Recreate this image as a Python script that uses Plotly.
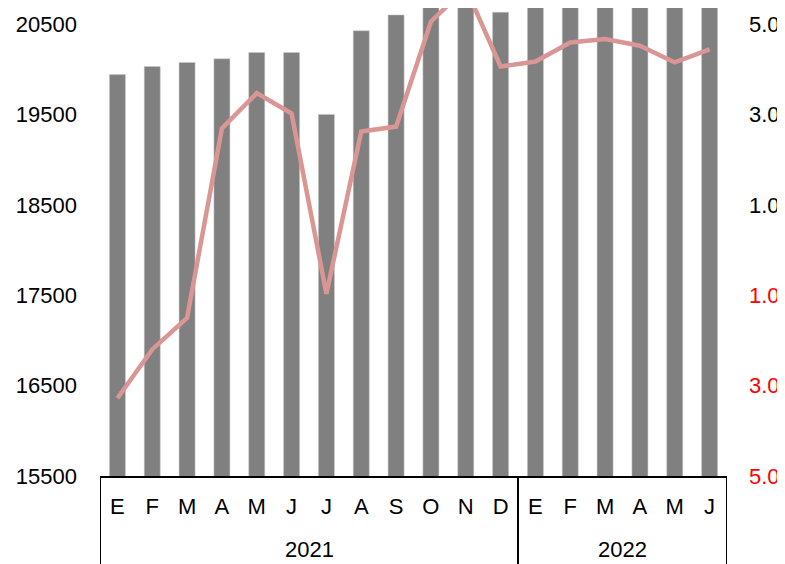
import plotly.graph_objects as go

# meses (la M, J y A se repiten en el año, se diferencian con espacio de ancho cero)
meses = ["E", "F", "M", "A", "M\u200b", "J", "J\u200b", "A\u200b", "S", "O", "N", "D",
         "E\u200b\u200b", "F\u200b\u200b", "M\u200b\u200b", "A\u200b\u200b", "M\u200b\u200b\u200b", "J\u200b\u200b"]
anios = ["2021"] * 12 + ["2022"] * 6

# nivel (eje izquierdo)
nivel = [19940, 20030, 20075, 20115, 20185, 20185, 19500, 20425, 20600, 20850, 20950, 20630,
         20900, 20950, 20980, 21000, 21020, 21050]
# variación (eje derecho)
variacion = [-3.28, -2.2, -1.5, 2.69, 3.47, 3.02, -0.97, 2.62, 2.73, 5.05, 5.8, 4.06,
             4.17, 4.59, 4.67, 4.52, 4.15, 4.44]

izq_vals = [15500, 16500, 17500, 18500, 19500, 20500]
der_vals = [-5, -3, -1, 1, 3, 5]
der_text = ["<span style='color:#ff0000'>5.0</span>", "<span style='color:#ff0000'>3.0</span>",
            "<span style='color:#ff0000'>1.0</span>", "1.0", "3.0", "5.0"]

fig = go.Figure()
fig.add_trace(go.Bar(x=meses, y=nivel, marker_color="#808080",
                     marker_line=dict(color="#c8c8c8", width=0.5), width=0.46))
fig.add_trace(go.Scatter(x=meses, y=variacion, yaxis="y2", mode="lines",
                         line=dict(color="#d99694", width=4.5)))

# separadores y etiquetas de año bajo el eje
grupos = []
for i, a in enumerate(anios):
    if not grupos or grupos[-1][0] != a:
        grupos.append([a, i, i])
    else:
        grupos[-1][2] = i
bordes = [grupos[0][1] - 0.5] + [g[2] + 0.5 for g in grupos]
for b in bordes:
    fig.add_shape(type="line", xref="x", yref="paper", x0=b, x1=b, y0=0, y1=-0.2,
                  line=dict(color="black", width=2))
for a, i0, i1 in grupos:
    fig.add_annotation(x=(i0 + i1) / 2, y=-0.158, xref="x", yref="paper", text=a,
                       showarrow=False, yanchor="middle", font=dict(size=22))

fig.update_layout(
    width=777, height=556,
    paper_bgcolor="white", plot_bgcolor="white",
    font=dict(family="Liberation Sans, Arial", size=22, color="black"),
    margin=dict(t=0, b=88, l=92, r=58),
    showlegend=False,
    xaxis=dict(showline=True, linecolor="black", linewidth=2, showgrid=False, ticks="",
               automargin=False, range=[-0.5, len(meses) - 0.5], ticklabelstandoff=10),
    yaxis=dict(range=[15500, 20677], tickvals=izq_vals, tickformat="d",
               showgrid=False, zeroline=False, showline=False, ticklabelstandoff=22,
               automargin=False),
    yaxis2=dict(range=[-5, 5.354], overlaying="y", side="right", tickvals=der_vals,
                ticktext=der_text, showgrid=False, zeroline=False, showline=False,
                ticklabelstandoff=21, automargin=False),
)

fig.write_html("out.html")
